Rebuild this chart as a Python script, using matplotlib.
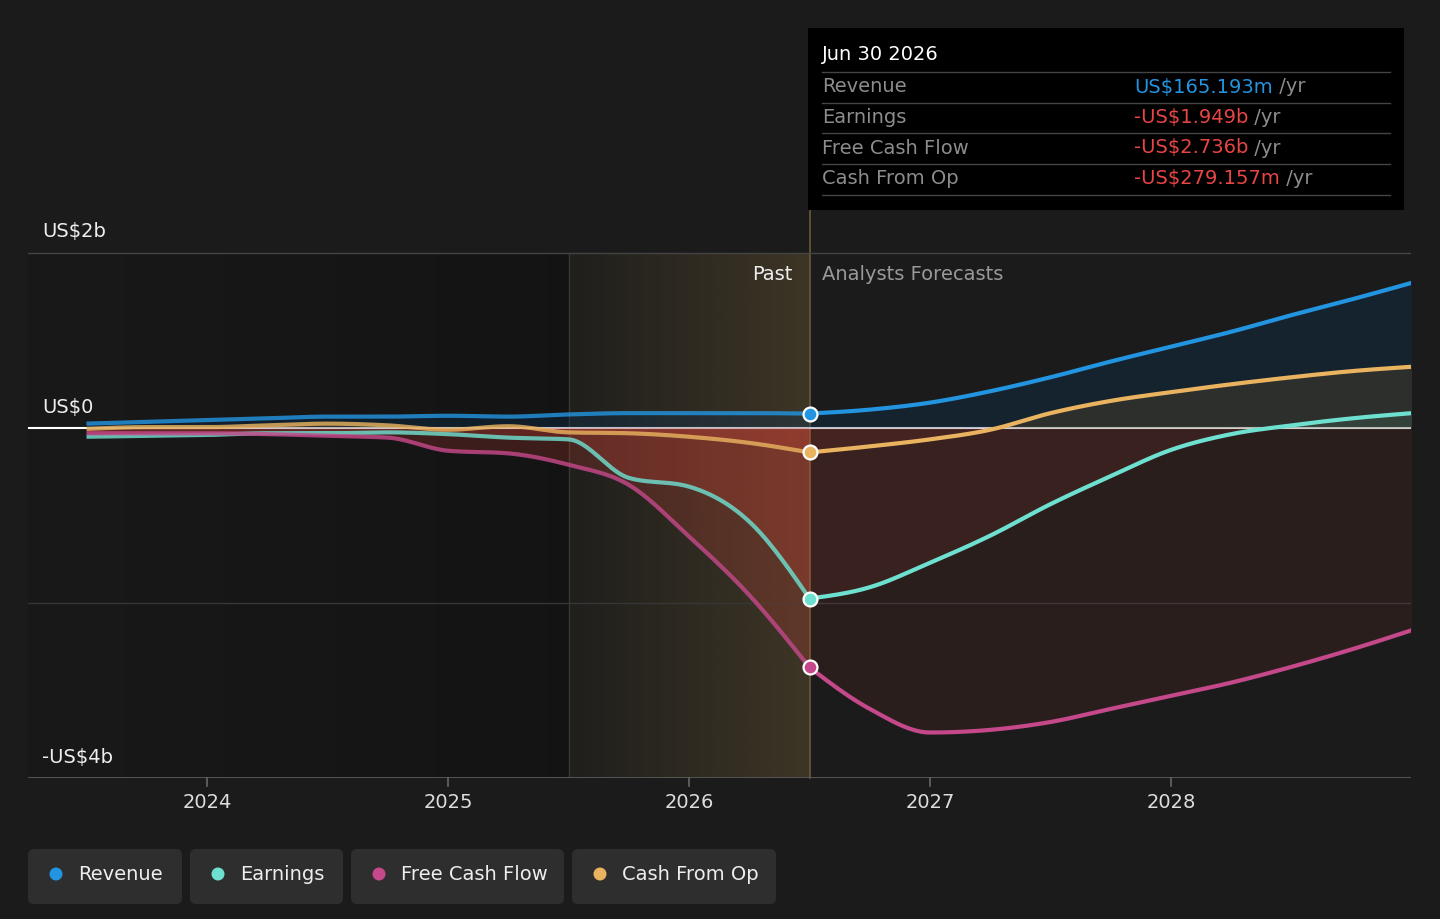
import numpy as np
import matplotlib.pyplot as plt
from matplotlib.patches import FancyBboxPatch, Rectangle, Circle
from matplotlib.text import Annotation
from matplotlib.transforms import Affine2D

plt.rcParams["font.family"] = ["DejaVu Sans"]

W, H = 1440, 919
BG = "#1b1b1b"

# ------------------------------------------------------------------
# data (US$ billions, per year)
# ------------------------------------------------------------------
past_years = [2023.5, 2023.75, 2024.0, 2024.25, 2024.5, 2024.75, 2025.0,
              2025.25, 2025.5, 2025.75, 2026.0, 2026.25, 2026.5]
forecast_years = [2026.5, 2026.75, 2027.0, 2027.25, 2027.5, 2027.75, 2028.0,
                  2028.25, 2028.5, 2028.75, 2029.0]

revenue_past = [0.05, 0.07, 0.09, 0.11, 0.13, 0.13, 0.14, 0.13, 0.155, 0.17, 0.17, 0.17, 0.165]
revenue_fc = [0.165, 0.21, 0.29, 0.42, 0.58, 0.76, 0.93, 1.10, 1.29, 1.47, 1.66]

earnings_past = [-0.10, -0.09, -0.08, -0.06, -0.06, -0.05, -0.07, -0.11, -0.13, -0.57, -0.67, -1.07, -1.949]
earnings_fc = [-1.949, -1.82, -1.54, -1.23, -0.87, -0.55, -0.25, -0.07, 0.03, 0.11, 0.17]

fcf_past = [-0.06, -0.06, -0.06, -0.07, -0.09, -0.11, -0.26, -0.29, -0.42, -0.65, -1.24, -1.91, -2.736]
fcf_fc = [-2.736, -3.21, -3.48, -3.45, -3.36, -3.21, -3.06, -2.91, -2.73, -2.53, -2.31]

cfo_past = [-0.01, 0.01, 0.01, 0.03, 0.05, 0.03, -0.02, 0.02, -0.05, -0.06, -0.10, -0.17, -0.279]
cfo_fc = [-0.279, -0.21, -0.13, -0.02, 0.17, 0.31, 0.41, 0.50, 0.58, 0.65, 0.70]

series_names = ["Revenue", "Earnings", "Free Cash Flow", "Cash From Op"]
series_colors = ["#2394df", "#6ee0d0", "#c4488a", "#e9b35f"]

tooltip_date = "Jun 30 2026"
tooltip_values = ["US$165.193m", "-US$1.949b", "-US$2.736b", "-US$279.157m"]

year_ticks = [2024, 2025, 2026, 2027, 2028]
y_labels = {2: "US$2b", 0: "US$0", -4: "-US$4b"}

PAST_START = 2025.5
NOW = 2026.5
FS = 14


def smooth(x, y, per=40):
    # monotone cubic (same idea as d3 curveMonotoneX)
    x = np.asarray(x, float)
    y = np.asarray(y, float)
    h = np.diff(x)
    d = np.diff(y) / h
    m = np.zeros_like(y)
    for i in range(1, len(y) - 1):
        if d[i - 1] * d[i] > 0:
            p = (d[i - 1] * h[i] + d[i] * h[i - 1]) / (h[i - 1] + h[i])
            m[i] = 2 * np.sign(d[i]) * min(abs(d[i - 1]), abs(d[i]), 0.5 * abs(p))
    m[0] = (3 * d[0] - m[1]) / 2
    m[-1] = (3 * d[-1] - m[-2]) / 2
    xs, ys = [], []
    for i in range(len(h)):
        t = np.linspace(0, 1, per, endpoint=(i == len(h) - 1))
        h00 = 2 * t**3 - 3 * t**2 + 1
        h10 = t**3 - 2 * t**2 + t
        h01 = -2 * t**3 + 3 * t**2
        h11 = t**3 - t**2
        ys.append(h00 * y[i] + h10 * h[i] * m[i] + h01 * y[i + 1] + h11 * h[i] * m[i + 1])
        xs.append(x[i] + t * h[i])
    return np.concatenate(xs), np.concatenate(ys)


# pixel helpers (reference layout: 2026 at x=689, 241 px / year; 0 at y=428, 87.5 px / b)
def xv(px):
    return 2026 + (px - 689) / 241


def yv(py):
    return (428 - py) / 87.5


fig = plt.figure(figsize=(W / 100, H / 100), dpi=100, facecolor=BG)
pix = Affine2D().scale(0.01, -0.01).translate(0, H * 0.01) + fig.dpi_scale_trans

ax = fig.add_axes([28 / W, (H - 778) / H, (1411 - 28) / W, 750 / H])
ax.set_xlim(xv(28), xv(1411))
ax.set_ylim(-4, yv(28))
ax.axis("off")
ax.set_facecolor("none")

# ------------------------------------------------------------------
# background regions
# ------------------------------------------------------------------
dark_img = np.zeros((1, 256, 4))
dark_img[..., 3] = np.linspace(0.08, 0.27, 256)
ax.imshow(dark_img, extent=[xv(28), PAST_START, -4, 2], aspect="auto", zorder=0,
          interpolation="bilinear")

band = np.zeros((1, 256, 4))
band[..., 0] = 200 / 255
band[..., 1] = 160 / 255
band[..., 2] = 80 / 255
band[..., 3] = np.linspace(0.03, 0.2, 256)
ax.imshow(band, extent=[PAST_START, NOW, -4, 2], aspect="auto", zorder=0.5,
          interpolation="bilinear")

ax.plot([PAST_START, PAST_START], [-4, 2], color="#3b3729", lw=1, zorder=1)
ax.plot([NOW, NOW], [-4, yv(210)], color="#6b5a38", lw=1.2, zorder=1, clip_on=False)

# grid
ax.plot([xv(28), xv(1411)], [2, 2], color="#444444", lw=1, zorder=1)
ax.plot([xv(28), xv(1411)], [-2, -2], color="#363636", lw=1, zorder=1)
ax.plot([xv(28), xv(1411)], [-4, -4], color="#555555", lw=1.4, zorder=1)
ax.plot([xv(28), xv(1411)], [0, 0], color="white", lw=1.5, zorder=2)

for yr in year_ticks:
    ax.plot([yr, yr], [-4, -4 - 8 / 87.5], color="#666666", lw=1.2, clip_on=False)
    ax.text(yr, yv(802), str(yr), ha="center", va="center", color="#dddddd",
            fontsize=FS)

for val, lab in y_labels.items():
    ax.text(xv(42), val + 21 / 87.5, lab, ha="left", va="center", color="#eeeeee",
            fontsize=FS)

ax.text(xv(793), yv(274), "Past", ha="right", va="center", color="#eeeeee", fontsize=FS)
ax.text(xv(822), yv(274), "Analysts Forecasts", ha="left", va="center", color="#999999",
        fontsize=FS)

# ------------------------------------------------------------------
# series
# ------------------------------------------------------------------
past = [revenue_past, earnings_past, fcf_past, cfo_past]
fc = [revenue_fc, earnings_fc, fcf_fc, cfo_fc]
pos_fill = [("#0a375f", 0.3), ("#6ee0d0", 0.1), ("#c4488a", 0.1), ("#b87a20", 0.15)]
NEG = "#e6463a"

for i, name in enumerate(series_names):
    col = series_colors[i]
    for xs_raw, ys_raw, neg_a, line_a in [(past_years, past[i], 0.2, 0.82),
                                          (forecast_years, fc[i], 0.08, 1.0)]:
        xs, ys = smooth(xs_raw, ys_raw)
        fcol, fa = pos_fill[i]
        ax.fill_between(xs, ys, 0, where=ys >= 0, interpolate=True, color=fcol,
                        alpha=fa, lw=0, zorder=3)
        ax.fill_between(xs, ys, 0, where=ys <= 0, interpolate=True, color=NEG,
                        alpha=neg_a, lw=0, zorder=3)
        ax.plot(xs, ys, color=col, lw=3, alpha=line_a, zorder=4,
                solid_capstyle="butt")

for i in [0, 3, 1, 2]:
    ax.plot(NOW, fc[i][0], "o", ms=10, mfc=series_colors[i], mec="white", mew=1.6,
            zorder=6)

# ------------------------------------------------------------------
# tooltip
# ------------------------------------------------------------------
fig.add_artist(Rectangle((808, 28), 596, 182, transform=pix, facecolor="black",
                         edgecolor="none", zorder=5))
fig.text(822, 55, tooltip_date, transform=pix, color="white", fontsize=FS,
         va="center", ha="left", zorder=6)
for ly in [72, 103, 133, 164, 195]:
    fig.add_artist(plt.Line2D([822, 1390], [ly, ly], transform=pix, color="#444444",
                              lw=1, zorder=6))
for k, (lab, val) in enumerate(zip(series_names, tooltip_values)):
    ry = 87 + k * 30.5
    fig.text(822, ry, lab, transform=pix, color="#8c8c8c", fontsize=FS,
             va="center", ha="left", zorder=6)
    vcol = "#2394df" if not val.startswith("-") else "#e84545"
    t = fig.text(1134, ry, val, transform=pix, color=vcol, fontsize=FS,
                 va="center", ha="left", zorder=6)
    unit = Annotation(" /yr", xy=(1, 0), xycoords=t, va="bottom", ha="left",
                      color="#8c8c8c", fontsize=FS, zorder=7)
    fig.add_artist(unit)

# ------------------------------------------------------------------
# legend buttons
# ------------------------------------------------------------------
buttons = [(28, 182), (190, 343), (351, 564), (572, 776)]
for (x0, x1), name, col in zip(buttons, series_names, series_colors):
    fig.add_artist(FancyBboxPatch((x0, 849), x1 - x0, 55, transform=pix,
                                  boxstyle="round,pad=0,rounding_size=6",
                                  facecolor="#2e2e2e", edgecolor="none"))
    fig.add_artist(Circle((x0 + 28, 874), 6.5, transform=pix, facecolor=col,
                          edgecolor="none"))
    fig.text(x0 + 50, 874, name, transform=pix, color="#eeeeee", fontsize=FS,
             va="center", ha="left")

fig.savefig("out.png", dpi=100, facecolor=BG)
